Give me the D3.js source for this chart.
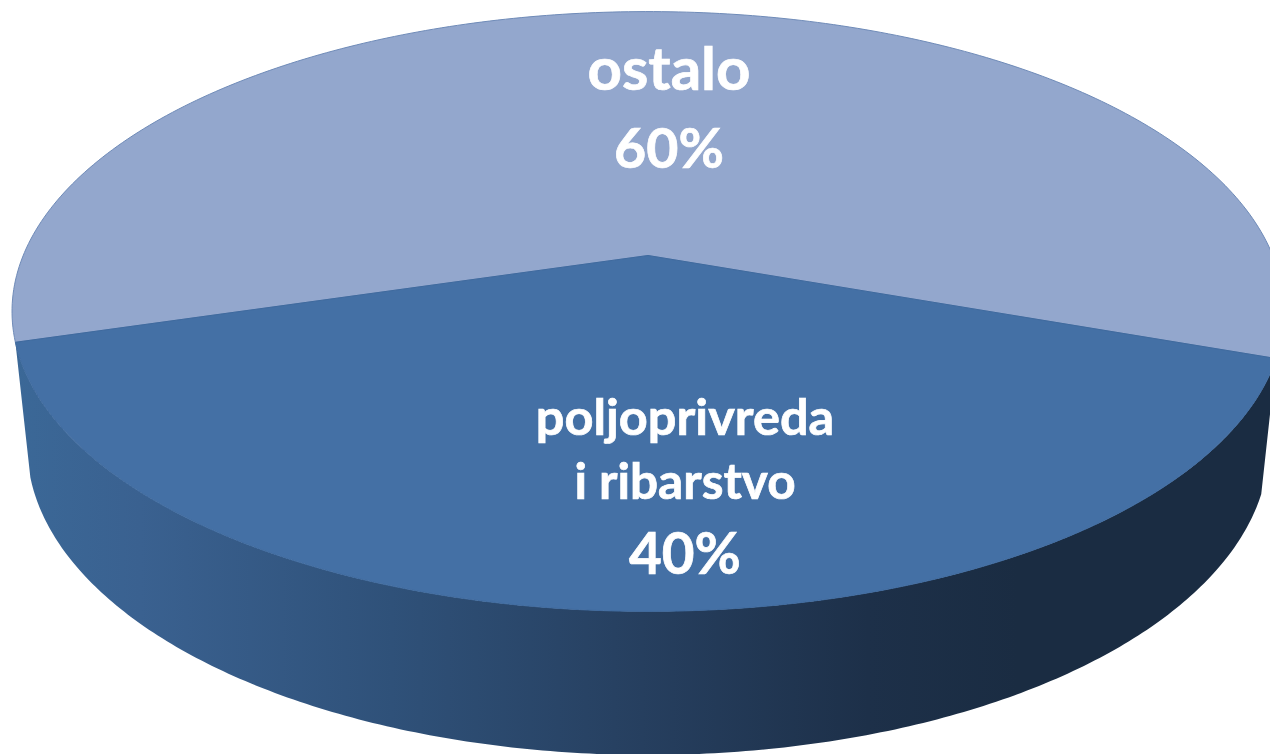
<!DOCTYPE html>
<html>
<head>
<meta charset="utf-8">
<style>
    body { margin: 0; background: white; }
    svg { display: block; }
    text { font-family: Lato, "Open Sans", sans-serif; font-weight: 700; fill: white; stroke: white; stroke-width: 0.7; text-anchor: middle; }
</style>
</head>
<body>
    <svg width="1270" height="754"></svg>
    <script src="https://d3js.org/d3.v7.min.js"></script>
    <script>
        const categories = ["poljoprivreda i ribarstvo", "ostalo"];
        const values = [40, 60];
        const labelLines = [["poljoprivreda", "i ribarstvo", "40%"], ["ostalo", "60%"]];
        const sliceColors = ["#4470a5", "#93a7cd"];
        const edgeColors = ["#3f6a9e", "#6f8bb8"];

        const svg = d3.select("svg");
        const width = +svg.attr("width"), height = +svg.attr("height");

        // tilted disc: unit circle seen in perspective
        const topDisc = { a: 624.8, b: 241.75, c: 255.5, k: 0.18667 };
        const bottomDisc = { a: 610, b: 226, c: 388, k: 0.18667 };
        const cx = 648;
        const project = (disc, angle) => {
            const u = Math.sin(angle), v = -Math.cos(angle), w = 1 - disc.k * v;
            return [cx + disc.a * u / w, (disc.b * v + disc.c) / w];
        };

        const start = 109.5 * Math.PI / 180;
        const pie = d3.pie().sort(null).startAngle(start).endAngle(start + 2 * Math.PI);
        const arcs = pie(values);
        const line = d3.line();
        const sample = (a0, a1) => d3.range(0, 241).map(i => a0 + (a1 - a0) * i / 240);

        // side wall gradient
        const grad = svg.append("defs").append("linearGradient")
            .attr("id", "wall")
            .attr("gradientUnits", "userSpaceOnUse")
            .attr("x1", 15).attr("x2", 1270).attr("y1", 0).attr("y2", 0);
        [[0, "#3b6897"], [0.1, "#3a6190"], [0.3, "#2f5179"], [0.5, "#263f5f"], [0.68, "#1d3049"], [0.8, "#1a2c42"], [1, "#1a2c42"]]
            .forEach(s => grad.append("stop").attr("offset", s[0]).attr("stop-color", s[1]));

        // only the front slice shows its wall
        const front = arcs[0];
        const angles = sample(front.startAngle, front.endAngle);
        const wallPts = angles.map(a => project(topDisc, a))
            .concat(angles.slice().reverse().map(a => project(bottomDisc, a)));
        svg.append("path")
            .attr("d", line(wallPts) + "Z")
            .attr("fill", "url(#wall)");

        svg.selectAll("path.slice")
            .data(arcs.slice().reverse())
            .enter().append("path")
            .attr("class", "slice")
            .attr("d", d => line([[cx, topDisc.c]].concat(sample(d.startAngle, d.endAngle).map(a => project(topDisc, a)))) + "Z")
            .attr("fill", d => sliceColors[d.index])
            .attr("stroke", d => edgeColors[d.index])
            .attr("stroke-width", 1)
            .attr("stroke-linejoin", "round");

        // labels
        const labelBase = [[435, 499, 574], [90, 168]];
        const labelSize = [[50.5, 49.5, 56.5], [60, 55.5]];
        const labelX = [[685, 685, 685], [669, 669]];
        labelLines.forEach((lines, i) => {
            svg.append("g")
                .attr("class", "label")
                .attr("data-name", categories[i])
                .selectAll("text")
                .data(lines)
                .enter().append("text")
                .attr("x", (d, j) => labelX[i][j])
                .attr("y", (d, j) => labelBase[i][j])
                .attr("font-size", (d, j) => labelSize[i][j])
                .text(d => d);
        });
    </script>
</body>
</html>
